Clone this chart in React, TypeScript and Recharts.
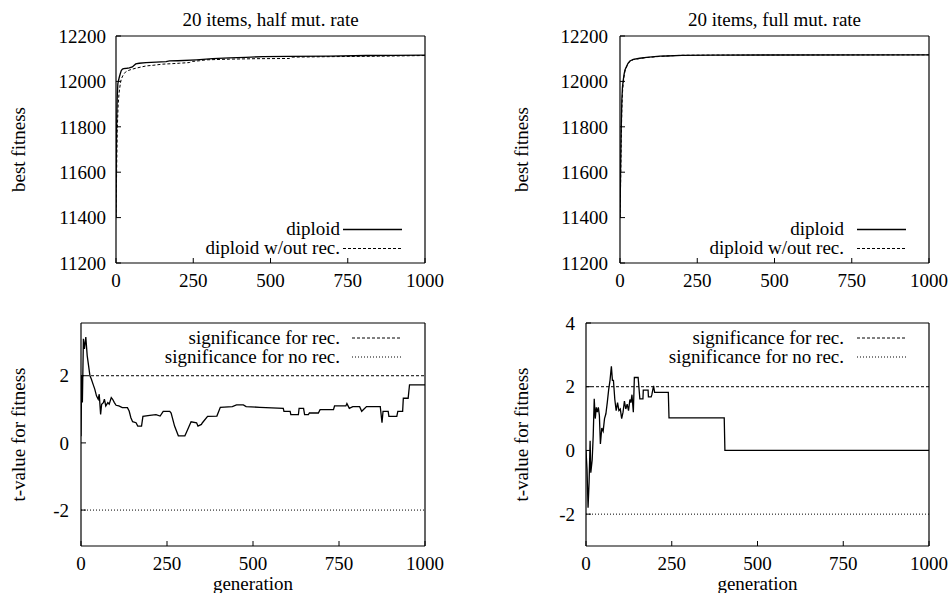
import React from 'react';
import { LineChart, Line, XAxis, YAxis, ReferenceLine } from 'recharts';

const FONT = 'Liberation Serif';
const FS = 19;

// Axis ticks
const generationTicks = [0, 250, 500, 750, 1000];
const fitnessTicks = [11200, 11400, 11600, 11800, 12000, 12200];
const tTicksHalf = [-2, 0, 2];
const tTicksFull = [-2, 0, 2, 4];

// Significance thresholds
const significanceRec = 2;
const significanceNoRec = -2;

// Best fitness, half mutation rate
const halfDiploidGen = [0, 1, 2, 4, 6, 10, 14, 17, 21, 25, 35, 43, 53, 58, 64, 75, 97, 130, 162, 173, 200, 260, 313, 367, 420, 475, 560, 691, 811, 900, 1000];
const halfDiploidFit = [11400, 11650, 11800, 11930, 11990, 12015, 12035, 12048, 12054, 12056, 12058, 12060, 12064, 12070, 12077, 12080, 12083, 12085, 12087, 12090, 12091, 12095, 12100, 12104, 12106, 12109, 12110, 12111, 12114, 12115, 12116];
const halfNoRecGen = [0, 2, 4, 7, 10, 14, 17, 22, 27, 32, 40, 50, 64, 80, 97, 120, 151, 180, 205, 237, 248, 270, 292, 367, 450, 561, 572, 691, 850, 1000];
const halfNoRecFit = [11400, 11600, 11780, 11900, 11950, 11990, 12010, 12025, 12035, 12043, 12048, 12053, 12058, 12063, 12068, 12071, 12076, 12078, 12080, 12083, 12088, 12091, 12095, 12098, 12100, 12101, 12107, 12109, 12111, 12114];

// Best fitness, full mutation rate
const fullDiploidGen = [0, 2, 4, 6, 8, 10, 13, 16, 21, 26, 32, 43, 64, 86, 129, 151, 200, 302, 1000];
const fullDiploidFit = [11400, 11620, 11800, 11920, 11975, 12000, 12030, 12050, 12066, 12080, 12090, 12097, 12102, 12106, 12111, 12112, 12115, 12116, 12117];
const fullNoRecGen = [0, 2, 4, 6, 8, 10, 13, 16, 21, 26, 32, 43, 64, 86, 129, 151, 200, 302, 1000];
const fullNoRecFit = [11400, 11550, 11740, 11880, 11950, 11985, 12020, 12045, 12063, 12078, 12088, 12096, 12101, 12105, 12110, 12112, 12115, 12116, 12117];

// t-value, half mutation rate
const halfTGen = [0, 2, 4, 7, 10, 14, 18, 22, 26, 30, 35, 40, 45, 50, 53, 57, 60, 65, 68, 72, 78, 82, 88, 92, 97, 102, 110, 120, 135, 140, 145, 150, 160, 165, 176, 180, 200, 218, 230, 239, 258, 262, 272, 283, 302, 306, 320, 336, 340, 350, 353, 368, 395, 405, 440, 452, 472, 480, 520, 588, 590, 608, 610, 632, 634, 647, 650, 661, 664, 690, 695, 734, 737, 770, 773, 780, 790, 810, 816, 830, 870, 875, 878, 893, 895, 918, 921, 935, 937, 951, 955, 1000];
const halfTVal = [0.2, 2.0, 1.2, 3.1, 2.8, 3.15, 2.6, 2.3, 2.0, 1.9, 1.75, 1.6, 1.4, 1.3, 1.45, 0.85, 1.15, 1.2, 1.3, 1.1, 1.2, 1.15, 1.35, 1.3, 1.2, 1.12, 1.1, 1.05, 1.05, 0.95, 0.75, 0.63, 0.6, 0.5, 0.5, 0.79, 0.82, 0.84, 0.8, 0.94, 0.94, 0.89, 0.5, 0.21, 0.21, 0.3, 0.63, 0.6, 0.5, 0.55, 0.6, 0.79, 0.8, 1.06, 1.08, 1.13, 1.13, 1.08, 1.06, 1.03, 0.94, 0.94, 0.84, 0.84, 1.03, 1.03, 0.84, 0.84, 0.89, 0.89, 0.99, 0.99, 1.1, 1.1, 1.17, 1.03, 1.08, 1.08, 0.94, 1.08, 1.08, 0.6, 0.94, 0.94, 0.79, 0.79, 0.94, 0.94, 1.33, 1.33, 1.73, 1.73];

// t-value, full mutation rate
const fullTGen = [0, 3, 6, 9, 12, 14, 18, 21, 24, 27, 30, 33, 36, 39, 42, 46, 50, 54, 58, 62, 66, 70, 74, 77, 80, 84, 88, 92, 96, 100, 104, 108, 112, 116, 120, 124, 128, 131, 134, 138, 141, 152, 157, 166, 167, 181, 182, 190, 192, 197, 200, 240, 242, 403, 405, 1000];
const fullTVal = [0, -0.6, -1.8, -1.0, 0.3, -0.7, -0.3, 0.45, 1.62, 1.0, 1.35, 1.2, 1.35, 1.1, 0.2, 0.7, 0.6, 1.0, 1.15, 1.5, 1.9, 2.2, 2.64, 2.2, 2.2, 1.6, 1.25, 1.5, 1.25, 1.3, 1.0, 1.2, 1.55, 1.3, 1.45, 1.25, 1.6, 1.5, 1.75, 1.2, 2.29, 2.29, 1.62, 1.62, 1.89, 1.89, 1.68, 1.68, 1.75, 2.03, 1.82, 1.82, 1.02, 1.02, 0, 0];

type Series = { key: string; label: string; gens: number[]; vals: number[]; dash?: string };
type Rect = { x: number; y: number; w: number; h: number };
type Plot = { x0: number; x1: number; y0: number; y1: number };

function buildRows(series: Series[]) {
  const rows: Record<string, number>[] = [];
  series.forEach((s) => s.gens.forEach((g, i) => rows.push({ gen: g, [s.key]: s.vals[i] })));
  return rows;
}

const tickStyle = { fontFamily: FONT, fontSize: FS, fill: '#000' };
const axisLineStyle = { stroke: '#000', strokeWidth: 1.2 };

function Panel(props: {
  box: Rect;
  plot: Plot;
  yDomain: [number, number];
  yTicks: number[];
  series: Series[];
  thresholds?: boolean;
  labelGap: number;
}) {
  const { box, plot, yDomain, yTicks, series, thresholds, labelGap } = props;
  const rows = buildRows(series);
  const YW = 60;
  const XH = 30;
  const margin = {
    left: plot.x0 - box.x - YW,
    right: box.x + box.w - plot.x1 - 1,
    top: plot.y0 - box.y - 1,
    bottom: box.y + box.h - plot.y1 - XH,
  };
  return (
    <div style={{ position: 'absolute', left: box.x, top: box.y }}>
      <LineChart width={box.w} height={box.h} data={rows} margin={margin}>
        <XAxis xAxisId="b" type="number" dataKey="gen" domain={[0, 1000]} ticks={generationTicks}
          interval={0} allowDataOverflow height={XH} tickSize={-5} tickMargin={16}
          axisLine={axisLineStyle} tickLine={{ stroke: '#000' }} tick={tickStyle} />
        <XAxis xAxisId="t" orientation="top" type="number" dataKey="gen" domain={[0, 1000]}
          ticks={generationTicks} interval={0} allowDataOverflow height={1} tickSize={-5}
          axisLine={axisLineStyle} tickLine={{ stroke: '#000' }} tick={false} />
        <YAxis yAxisId="l" type="number" domain={yDomain} ticks={yTicks} interval={0}
          allowDataOverflow width={YW} tickSize={-5} tickMargin={5 + labelGap}
          axisLine={axisLineStyle} tickLine={{ stroke: '#000' }} tick={tickStyle} />
        <YAxis yAxisId="r" orientation="right" type="number" domain={yDomain} ticks={yTicks}
          interval={0} allowDataOverflow width={1} tickSize={-5}
          axisLine={axisLineStyle} tickLine={{ stroke: '#000' }} tick={false} />
        {thresholds && (
          <ReferenceLine xAxisId="b" yAxisId="l" y={significanceRec} stroke="#000"
            strokeWidth={1} strokeDasharray="3 2" />
        )}
        {thresholds && (
          <ReferenceLine xAxisId="b" yAxisId="l" y={significanceNoRec} stroke="#000"
            strokeWidth={1} strokeDasharray="1 2" />
        )}
        {series.map((s) => (
          <Line key={s.key} xAxisId="b" yAxisId="l" type="linear" dataKey={s.key}
            stroke="#000" strokeWidth={s.dash ? 1 : 1.3} strokeDasharray={s.dash}
            dot={false} activeDot={false} connectNulls isAnimationActive={false} />
        ))}
      </LineChart>
    </div>
  );
}

type LegendItem = { label: string; dash?: string };

function Legend(props: { textEnd: number; lineX0: number; lineX1: number; baseline: number; items: LegendItem[] }) {
  const { textEnd, lineX0, lineX1, baseline, items } = props;
  return (
    <g>
      {items.map((it, i) => {
        const b = baseline + i * 19;
        return (
          <g key={it.label}>
            <text x={textEnd} y={b} textAnchor="end" fontFamily={FONT} fontSize={FS} fill="#000">{it.label}</text>
            <line x1={lineX0} x2={lineX1} y1={b - 5.5} y2={b - 5.5} stroke="#000"
              strokeWidth={it.dash ? 1 : 1.3} strokeDasharray={it.dash} />
          </g>
        );
      })}
    </g>
  );
}

const fitnessLegend: LegendItem[] = [
  { label: 'diploid' },
  { label: 'diploid w/out rec.', dash: '3 2' },
];
const tLegend: LegendItem[] = [
  { label: 'significance for rec.', dash: '3 2' },
  { label: 'significance for no rec.', dash: '1 2' },
];

export default function App() {
  const halfFitness: Series[] = [
    { key: 'dip', label: 'diploid', gens: halfDiploidGen, vals: halfDiploidFit },
    { key: 'norec', label: 'diploid w/out rec.', gens: halfNoRecGen, vals: halfNoRecFit, dash: '3 2' },
  ];
  const fullFitness: Series[] = [
    { key: 'dip', label: 'diploid', gens: fullDiploidGen, vals: fullDiploidFit },
    { key: 'norec', label: 'diploid w/out rec.', gens: fullNoRecGen, vals: fullNoRecFit, dash: '3 2' },
  ];
  const halfT: Series[] = [{ key: 't', label: 't-value', gens: halfTGen, vals: halfTVal }];
  const fullT: Series[] = [{ key: 't', label: 't-value', gens: fullTGen, vals: fullTVal }];

  const textProps = { fontFamily: FONT, fontSize: FS, fill: '#000' };

  return (
    <div style={{ position: 'fixed', left: 0, top: 0, width: 951, height: 593, background: '#fff', overflow: 'hidden' }}>
      <Panel box={{ x: 0, y: 0, w: 475, h: 296 }} plot={{ x0: 116, x1: 425, y0: 36, y1: 263 }}
        yDomain={[11200, 12200]} yTicks={fitnessTicks} series={halfFitness} labelGap={10} />
      <Panel box={{ x: 475, y: 0, w: 476, h: 296 }} plot={{ x0: 620, x1: 929, y0: 36, y1: 263 }}
        yDomain={[11200, 12200]} yTicks={fitnessTicks} series={fullFitness} labelGap={12} />
      <Panel box={{ x: 0, y: 296, w: 475, h: 297 }} plot={{ x0: 81, x1: 425, y0: 323, y1: 546 }}
        yDomain={[-3.07, 3.57]} yTicks={tTicksHalf} series={halfT} thresholds labelGap={12} />
      <Panel box={{ x: 475, y: 296, w: 476, h: 297 }} plot={{ x0: 586, x1: 929, y0: 323, y1: 546 }}
        yDomain={[-3, 4]} yTicks={tTicksFull} series={fullT} thresholds labelGap={11} />
      <svg width={951} height={593} style={{ position: 'absolute', left: 0, top: 0, pointerEvents: 'none' }}>
        <text x={270.5} y={25.5} textAnchor="middle" {...textProps}>20 items, half mut. rate</text>
        <text x={774.5} y={25.5} textAnchor="middle" {...textProps}>20 items, full mut. rate</text>
        <text transform="translate(25,149.5) rotate(-90)" textAnchor="middle" {...textProps}>best fitness</text>
        <text transform="translate(528,149.5) rotate(-90)" textAnchor="middle" {...textProps}>best fitness</text>
        <text transform="translate(25,434.5) rotate(-90)" textAnchor="middle" {...textProps}>t-value for fitness</text>
        <text transform="translate(528,434.5) rotate(-90)" textAnchor="middle" {...textProps}>t-value for fitness</text>
        <text x={253} y={590} textAnchor="middle" {...textProps}>generation</text>
        <text x={757.5} y={590} textAnchor="middle" {...textProps}>generation</text>
        <Legend textEnd={340} lineX0={343} lineX1={402} baseline={235} items={fitnessLegend} />
        <Legend textEnd={844} lineX0={857} lineX1={906} baseline={235} items={fitnessLegend} />
        <Legend textEnd={340} lineX0={352} lineX1={402} baseline={343.5} items={tLegend} />
        <Legend textEnd={844} lineX0={857} lineX1={906} baseline={343.5} items={tLegend} />
      </svg>
    </div>
  );
}
